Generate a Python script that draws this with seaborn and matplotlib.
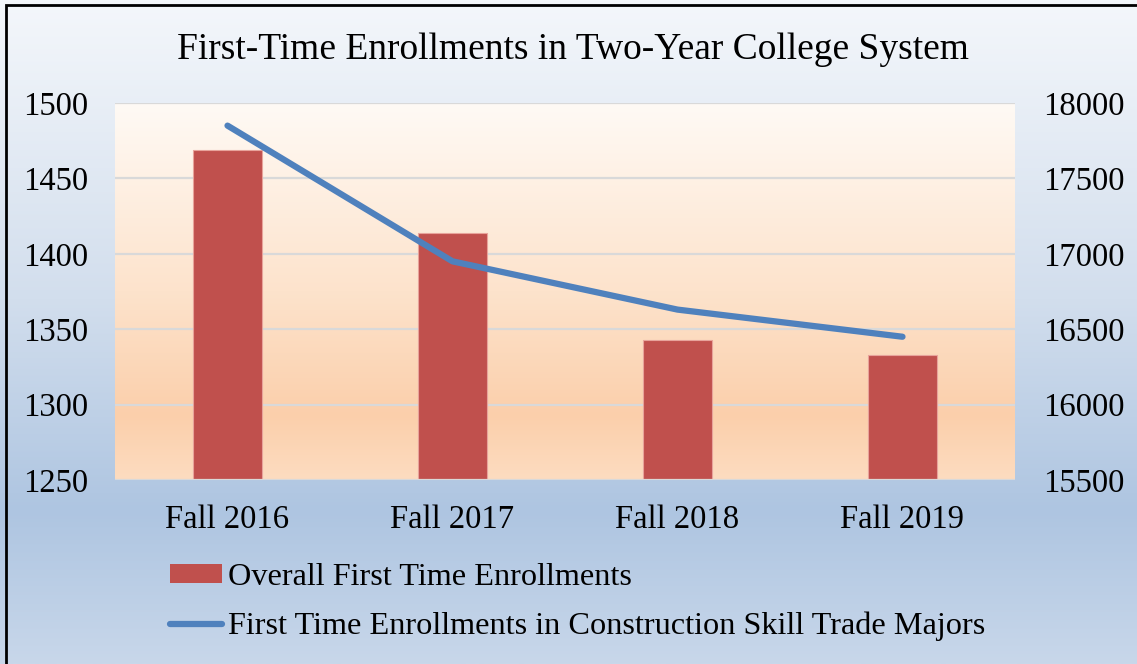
import numpy as np
import pandas as pd
import matplotlib
matplotlib.use("Agg")
import matplotlib.pyplot as plt
from matplotlib.colors import LinearSegmentedColormap
from matplotlib.patches import Rectangle, Patch
from matplotlib.lines import Line2D
import seaborn as sns

# data
terms = ["Fall 2016", "Fall 2017", "Fall 2018", "Fall 2019"]
overall = [1469, 1414, 1343, 1333]
construction = [17850, 16950, 16630, 16450]

bar_label = "Overall First Time Enrollments"
line_label = "First Time Enrollments in Construction Skill Trade Majors"
title = "First-Time Enrollments in Two-Year College System"

sns.set_theme(style="white")
plt.rcParams["font.family"] = ["Liberation Serif", "DejaVu Serif"]
plt.rcParams["text.color"] = "black"

bar_col = "#c0504d"
line_col = "#4f81bd"
fs = 23.5

fig = plt.figure(figsize=(11.37, 6.64), dpi=100)

# figure background gradient (light blue)
bg = fig.add_axes([0, 0, 1, 1], zorder=-10)
bg_cmap = LinearSegmentedColormap.from_list(
    "bg", [(0.0, "#f4f7fb"), (0.45, "#d2deed"), (0.77, "#aec5e1"), (1.0, "#c8d7ea")])
bg.imshow(np.linspace(0, 1, 256).reshape(-1, 1), cmap=bg_cmap, aspect="auto",
          extent=[0, 1, 0, 1], origin="upper")
bg.set_axis_off()
bg.add_patch(Rectangle((6 / 1137, -0.05), 1.1, 1 - 5 / 664 + 0.05,
                       fill=False, edgecolor="black", linewidth=2,
                       transform=bg.transAxes))

ax = fig.add_axes([115 / 1137, 1 - 480 / 664, 900 / 1137, 377 / 664])
ax2 = ax.twinx()

# plot area gradient (white -> peach)
pa_cmap = LinearSegmentedColormap.from_list(
    "pa", [(0.0, "#fffaf5"), (0.5, "#fde3cc"), (0.83, "#fbcfab"), (1.0, "#fddcc0")])
ax.set_ylim(1250, 1500)
ax.set_xlim(-0.5, 3.5)
ax.imshow(np.linspace(0, 1, 256).reshape(-1, 1), cmap=pa_cmap, aspect="auto",
          extent=[-0.5, 3.5, 1250, 1500], origin="upper", zorder=0)

df = pd.DataFrame({"term": terms, "overall": overall, "construction": construction})

sns.barplot(data=df, x="term", y="overall", color=bar_col, saturation=1,
            width=0.31, ax=ax, zorder=3, edgecolor="#e8a39b", linewidth=0.8)
sns.lineplot(data=df, x="term", y="construction", color=line_col, linewidth=4.5,
             ax=ax2, zorder=4, solid_capstyle="round", solid_joinstyle="round")

ax.set_xlim(-0.5, 3.5)
ax.set_ylim(1250, 1500)
ax2.set_ylim(15500, 18000)
ax.set_yticks(np.arange(1250, 1501, 50))
ax2.set_yticks(np.arange(15500, 18001, 500))

ax.patch.set_visible(False)
ax2.patch.set_visible(False)
for a in (ax, ax2):
    for s in a.spines.values():
        s.set_visible(False)
    a.set_xlabel("")
    a.set_ylabel("")
    a.tick_params(length=0, labelsize=fs, colors="black")
ax.tick_params(axis="y", pad=19.5)
ax2.tick_params(axis="y", pad=20)
ax.tick_params(axis="x", pad=18)

for v in np.arange(1300, 1501, 50):
    ax.axhline(v, color="#d9d9d9", linewidth=1.6, zorder=1)
ax.axhline(1250, color="#d9d9d9", linewidth=1.6, zorder=5)

fig.text(0.504, 1 - 50 / 664, title, ha="center", va="center", fontsize=27,
         color="black")

handles = [Patch(facecolor=bar_col, edgecolor="none"),
           Line2D([], [], color=line_col, linewidth=4.5, solid_capstyle="round")]
leg = fig.legend(handles, [bar_label, line_label], loc="upper left",
                 bbox_to_anchor=(170 / 1137, 1 - 563 / 664), frameon=False,
                 fontsize=23.2, handlelength=1.62, handleheight=0.5,
                 handletextpad=0.18, labelspacing=0.62, borderpad=0,
                 borderaxespad=0)
for t in leg.get_texts():
    t.set_color("black")

fig.savefig("out.png", dpi=100)
